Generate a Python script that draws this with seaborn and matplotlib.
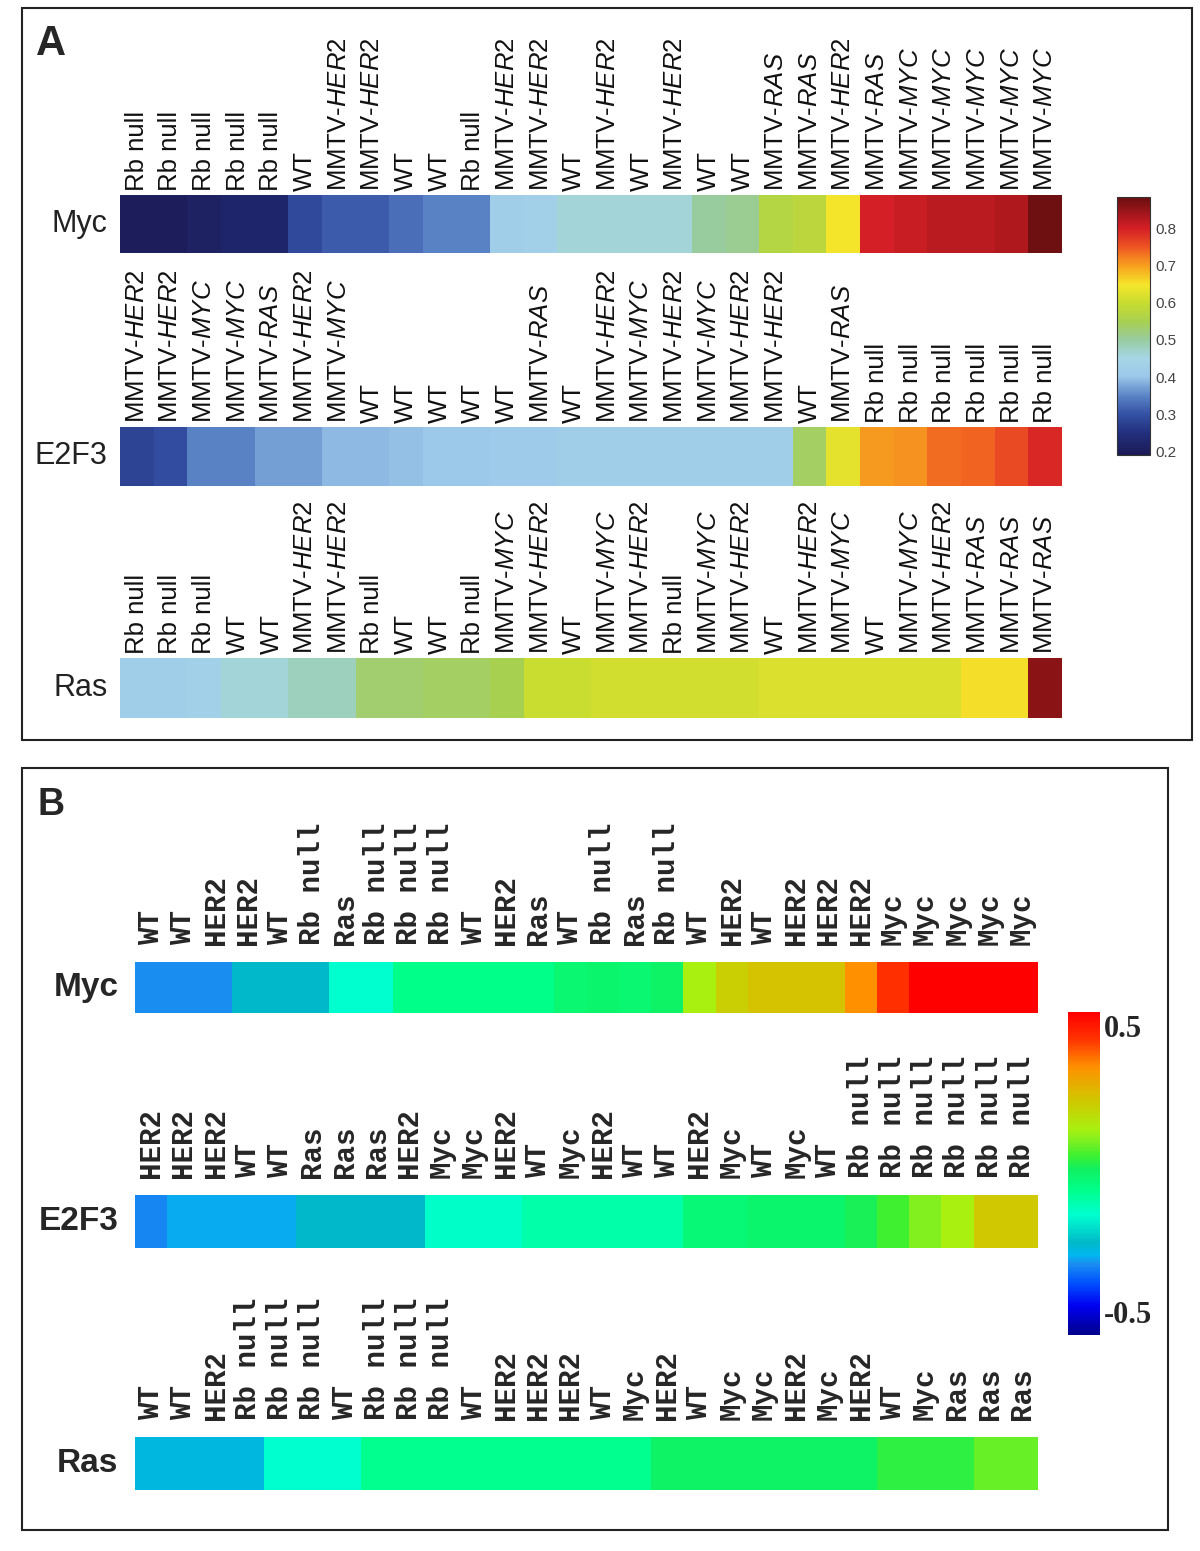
import numpy as np
import pandas as pd
import matplotlib
matplotlib.use('Agg')
import matplotlib.pyplot as plt
import seaborn as sns
from matplotlib.colors import LinearSegmentedColormap

sns.set_theme(style='white')
plt.rcParams['font.family'] = ['Liberation Sans', 'DejaVu Sans']
plt.rcParams['mathtext.fontset'] = 'custom'
plt.rcParams['mathtext.rm'] = 'Liberation Sans'
plt.rcParams['mathtext.it'] = 'Liberation Sans:italic'

# ---- Panel A data (28 tumours per signature, sorted by score)
a_myc_labels = ['Rb null', 'Rb null', 'Rb null', 'Rb null', 'Rb null', 'WT', 'MMTV-HER2',
                'MMTV-HER2', 'WT', 'WT', 'Rb null', 'MMTV-HER2', 'MMTV-HER2', 'WT',
                'MMTV-HER2', 'WT', 'MMTV-HER2', 'WT', 'WT', 'MMTV-RAS', 'MMTV-RAS',
                'MMTV-HER2', 'MMTV-RAS', 'MMTV-MYC', 'MMTV-MYC', 'MMTV-MYC', 'MMTV-MYC', 'MMTV-MYC']
a_myc_vals = [0.20, 0.20, 0.21, 0.22, 0.22, 0.29, 0.31, 0.31, 0.33, 0.35, 0.35, 0.42, 0.43, 0.46,
              0.46, 0.46, 0.46, 0.50, 0.51, 0.57, 0.58, 0.65, 0.80, 0.81, 0.82, 0.82, 0.83, 0.88]

a_e2f3_labels = ['MMTV-HER2', 'MMTV-HER2', 'MMTV-MYC', 'MMTV-MYC', 'MMTV-RAS', 'MMTV-HER2',
                 'MMTV-MYC', 'WT', 'WT', 'WT', 'WT', 'WT', 'MMTV-RAS', 'WT', 'MMTV-HER2',
                 'MMTV-MYC', 'MMTV-HER2', 'MMTV-MYC', 'MMTV-HER2', 'MMTV-HER2', 'WT', 'MMTV-RAS',
                 'Rb null', 'Rb null', 'Rb null', 'Rb null', 'Rb null', 'Rb null']
a_e2f3_vals = [0.28, 0.295, 0.35, 0.35, 0.37, 0.37, 0.39, 0.39, 0.395, 0.40, 0.40, 0.41, 0.41, 0.42,
               0.42, 0.42, 0.42, 0.42, 0.42, 0.42, 0.54, 0.63, 0.705, 0.71, 0.735, 0.74, 0.76, 0.79]

a_ras_labels = ['Rb null', 'Rb null', 'Rb null', 'WT', 'WT', 'MMTV-HER2', 'MMTV-HER2', 'Rb null',
                'WT', 'WT', 'Rb null', 'MMTV-MYC', 'MMTV-HER2', 'WT', 'MMTV-MYC', 'MMTV-HER2',
                'Rb null', 'MMTV-MYC', 'MMTV-HER2', 'WT', 'MMTV-HER2', 'MMTV-MYC', 'WT',
                'MMTV-MYC', 'MMTV-HER2', 'MMTV-RAS', 'MMTV-RAS', 'MMTV-RAS']
a_ras_vals = [0.42, 0.42, 0.43, 0.46, 0.46, 0.48, 0.48, 0.53, 0.53, 0.54, 0.54, 0.55, 0.60, 0.60,
              0.61, 0.61, 0.61, 0.61, 0.61, 0.62, 0.62, 0.62, 0.62, 0.62, 0.62, 0.655, 0.655, 0.86]

# ---- Panel B data
b_myc_labels = ['WT', 'WT', 'HER2', 'HER2', 'WT', 'Rb null', 'Ras', 'Rb null', 'Rb null', 'Rb null',
                'WT', 'HER2', 'Ras', 'WT', 'Rb null', 'Ras', 'Rb null', 'WT', 'HER2', 'WT', 'HER2',
                'HER2', 'HER2', 'Myc', 'Myc', 'Myc', 'Myc', 'Myc']
b_myc_vals = [-0.33, -0.33, -0.33, -0.26, -0.26, -0.26, -0.16, -0.16, -0.07, -0.07, -0.07, -0.07,
              -0.07, -0.03, -0.02, -0.03, -0.01, 0.14, 0.22, 0.25, 0.25, 0.25, 0.36, 0.46, 0.55,
              0.55, 0.55, 0.55]

b_e2f3_labels = ['HER2', 'HER2', 'HER2', 'WT', 'WT', 'Ras', 'Ras', 'Ras', 'HER2', 'Myc', 'Myc',
                 'HER2', 'WT', 'Myc', 'HER2', 'WT', 'WT', 'HER2', 'Myc', 'WT', 'Myc', 'WT',
                 'Rb null', 'Rb null', 'Rb null', 'Rb null', 'Rb null', 'Rb null']
b_e2f3_vals = [-0.34, -0.31, -0.31, -0.31, -0.31, -0.26, -0.26, -0.26, -0.26, -0.15, -0.15, -0.15,
               -0.11, -0.11, -0.11, -0.11, -0.11, -0.04, -0.04, -0.02, -0.02, -0.02, 0.01, 0.05,
               0.10, 0.14, 0.24, 0.24]

b_ras_labels = ['WT', 'WT', 'HER2', 'Rb null', 'Rb null', 'Rb null', 'WT', 'Rb null', 'Rb null',
                'Rb null', 'WT', 'HER2', 'HER2', 'HER2', 'WT', 'Myc', 'HER2', 'WT', 'Myc', 'Myc',
                'HER2', 'Myc', 'HER2', 'WT', 'Myc', 'Ras', 'Ras', 'Ras']
b_ras_vals = [-0.28, -0.28, -0.28, -0.28, -0.16, -0.16, -0.16, -0.08, -0.08, -0.08, -0.08, -0.08,
              -0.08, -0.08, -0.08, -0.08, -0.01, -0.01, -0.01, -0.01, -0.01, -0.01, -0.01, 0.03,
              0.03, 0.03, 0.08, 0.08]

# colour scales
a_vmin, a_vmax = 0.19, 0.885
a_stops = [(0.19, '#1c1a55'), (0.25, '#23307f'), (0.30, '#3451a4'), (0.35, '#5a84c6'),
           (0.40, '#9cc8ea'), (0.45, '#a6d6e6'), (0.50, '#98cca0'), (0.55, '#a8d050'),
           (0.60, '#c8dc30'), (0.65, '#f5e62a'), (0.70, '#f7a21f'), (0.75, '#ee5422'),
           (0.80, '#d51f26'), (0.885, '#6b0e10')]
cmap_a = LinearSegmentedColormap.from_list(
    'sigA', [((v - a_vmin) / (a_vmax - a_vmin), c) for v, c in a_stops])

b_vmin, b_vmax = -0.58, 0.55
b_stops = [(-0.58, '#00008c'), (-0.48, '#0000f0'), (-0.40, '#0050ff'), (-0.33, '#1a90f0'),
           (-0.30, '#00b8f0'), (-0.26, '#00b8c8'), (-0.16, '#00ffd0'), (-0.07, '#00ff88'),
           (0.00, '#10f060'), (0.05, '#40f030'), (0.10, '#80f020'), (0.14, '#a8f010'),
           (0.24, '#d0c800'), (0.36, '#ff9000'), (0.46, '#ff3000'), (0.55, '#ff0000')]
cmap_b = LinearSegmentedColormap.from_list(
    'sigB', [((v - b_vmin) / (b_vmax - b_vmin), c) for v, c in b_stops])

W, H = 1200, 1551
fig = plt.figure(figsize=(W / 100, H / 100), dpi=100)
fig.patch.set_facecolor('white')


def box(x0, y0, x1, y1):
    # pixel box -> figure fraction
    return [x0 / W, 1 - y1 / H, (x1 - x0) / W, (y1 - y0) / H]


def fmt_a(lab):
    if lab.startswith('MMTV-'):
        return 'MMTV-$\\it{' + lab[5:] + '}$'
    return lab


def strip(rect, vals, labels, name, cmap, vmin, vmax, panel, cax=None):
    ax = fig.add_axes(box(*rect))
    df = pd.DataFrame([vals], index=[name])
    sns.heatmap(df, ax=ax, cmap=cmap, vmin=vmin, vmax=vmax,
                cbar=cax is not None, cbar_ax=cax, xticklabels=True, yticklabels=True)
    ax.xaxis.tick_top()
    if panel == 'A':
        ax.set_xticklabels([fmt_a(l) for l in labels], rotation=90, fontsize=18.5,
                           color='#111111')
        ax.set_yticklabels([name], rotation=0, fontsize=22, color='#222222')
        ax.tick_params(axis='x', length=0, pad=3)
        ax.tick_params(axis='y', length=0, pad=9)
    else:
        ax.set_xticklabels(labels, rotation=90, fontsize=21,
                           family='Liberation Mono', fontweight='bold')
        ax.set_yticklabels([name], rotation=0, fontsize=24, fontweight='bold')
        ax.tick_params(axis='x', length=0, pad=12)
        ax.tick_params(axis='y', length=0, pad=12)
    ax.set_xlabel('')
    ax.set_ylabel('')
    return ax


# ---- Panel A
cax_a = fig.add_axes(box(1117, 197, 1150, 455))
ax_a1 = strip((120, 195, 1062, 253), a_myc_vals, a_myc_labels, 'Myc', cmap_a, a_vmin, a_vmax, 'A', cax_a)
strip((120, 427, 1062, 486), a_e2f3_vals, a_e2f3_labels, 'E2F3', cmap_a, a_vmin, a_vmax, 'A')
strip((120, 658, 1062, 718), a_ras_vals, a_ras_labels, 'Ras', cmap_a, a_vmin, a_vmax, 'A')
cbar_a = ax_a1.collections[0].colorbar
cbar_a.set_ticks([0.2, 0.3, 0.4, 0.5, 0.6, 0.7, 0.8])
cbar_a.set_ticklabels(['0.2', '0.3', '0.4', '0.5', '0.6', '0.7', '0.8'])
cax_a.tick_params(labelsize=11, length=3, direction='in', colors='#444444', pad=4)
cbar_a.outline.set_edgecolor('#333333')
cbar_a.outline.set_linewidth(0.8)

# ---- Panel B
cax_b = fig.add_axes(box(1068, 1012, 1100, 1335))
ax_b1 = strip((135, 962, 1038, 1013), b_myc_vals, b_myc_labels, 'Myc', cmap_b, b_vmin, b_vmax, 'B', cax_b)
strip((135, 1195, 1038, 1248), b_e2f3_vals, b_e2f3_labels, 'E2F3', cmap_b, b_vmin, b_vmax, 'B')
strip((135, 1437, 1038, 1490), b_ras_vals, b_ras_labels, 'Ras', cmap_b, b_vmin, b_vmax, 'B')
cbar_b = ax_b1.collections[0].colorbar
cbar_b.set_ticks([-0.5, 0.5])
cbar_b.set_ticklabels(['-0.5', '0.5'])
cax_b.tick_params(labelsize=22, length=0, pad=3)
for t in cax_b.get_yticklabels():
    t.set_fontfamily('Liberation Serif')
    t.set_fontweight('bold')
cbar_b.outline.set_visible(False)

# panel frames and letters
fig.add_artist(plt.Rectangle((22 / W, 1 - 740 / H), 1170 / W, 732 / H, transform=fig.transFigure,
                             fill=False, edgecolor='#222222', linewidth=1.5))
fig.add_artist(plt.Rectangle((22 / W, 1 - 1530 / H), 1146 / W, 762 / H, transform=fig.transFigure,
                             fill=False, edgecolor='#222222', linewidth=1.5))
fig.text(36 / W, 1 - 44 / H, 'A', fontsize=30, fontweight='bold', va='center', ha='left')
fig.text(38 / W, 1 - 805 / H, 'B', fontsize=27, fontweight='bold', va='center', ha='left')

fig.savefig('out.png', dpi=100)
